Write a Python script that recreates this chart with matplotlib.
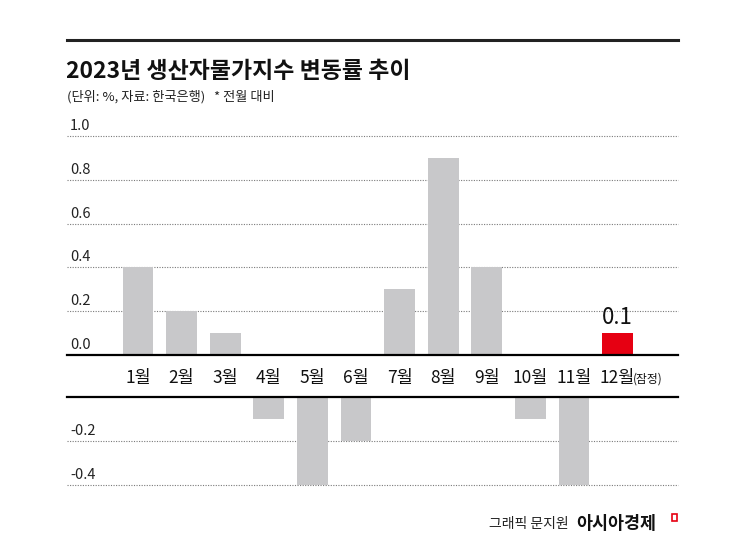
import matplotlib
matplotlib.use('Agg')
import matplotlib.pyplot as plt
from matplotlib.transforms import blended_transform_factory
from matplotlib.patches import Rectangle

plt.rcParams['font.family'] = ['Noto Sans CJK KR', 'DejaVu Sans']

# ---- data ----
months = ['1월', '2월', '3월', '4월', '5월', '6월', '7월', '8월', '9월', '10월', '11월', '12월']
values = [0.4, 0.2, 0.1, -0.1, -0.4, -0.2, 0.3, 0.9, 0.4, -0.1, -0.4, 0.1]
pos_ticks = [0.0, 0.2, 0.4, 0.6, 0.8, 1.0]
neg_ticks = [-0.2, -0.4]
title = '2023년 생산자물가지수 변동률 추이'
subtitle = '(단위: %, 자료: 한국은행)'
note = '* 전월 대비'
prelim = '(잠정)'
credit = '그래픽 문지원'
brand = '아시아경제'

GRAY = '#c8c8ca'
RED = '#e60012'

W, H = 745, 541
fig = plt.figure(figsize=(W / 100, H / 100), dpi=100)


def fx(px):
    return px / W


def fy(py):
    return 1 - py / H


L, R = 67, 678
ax_up = fig.add_axes([fx(L), fy(355), (R - L) / W, (355 - 136) / H])
ax_dn = fig.add_axes([fx(L), fy(485), (R - L) / W, (485 - 397) / H])

step = 43.6
xmin = -71 / step
xmax = xmin + (R - L) / step
x = list(range(len(months)))
colors = [GRAY] * (len(months) - 1) + [RED]

for ax in (ax_up, ax_dn):
    ax.set_xlim(xmin, xmax)
    ax.axis('off')
ax_up.set_ylim(0, 1.0)
ax_dn.set_ylim(-0.4, 0)

pos_vals = [v if v > 0 else 0 for v in values]
neg_vals = [v if v < 0 else 0 for v in values]
ax_up.bar(x, pos_vals, width=0.71, color=colors, zorder=2)
ax_dn.bar(x, neg_vals, width=0.71, color=colors, zorder=2)

dot = (0, (1, 1.3))
for t in pos_ticks[1:]:
    ax_up.axhline(t, color='#7a7a7a', lw=0.8, ls=dot, zorder=1, clip_on=False)
ax_up.axhline(0, color='black', lw=1.6, zorder=3, clip_on=False)
for t in neg_ticks:
    ax_dn.axhline(t, color='#7a7a7a', lw=0.8, ls=dot, zorder=1, clip_on=False)
ax_dn.axhline(0, color='black', lw=1.6, zorder=3, clip_on=False)

# tick labels
for ax, ticks in ((ax_up, pos_ticks), (ax_dn, neg_ticks)):
    tr = blended_transform_factory(ax.transAxes, ax.transData)
    for t in ticks:
        ax.annotate(f'{t:.1f}', xy=(0, t), xycoords=tr, xytext=(3, 3),
                    textcoords='offset pixels', ha='left', va='bottom',
                    fontsize=10.5, color='#222222')

# month labels
trm = blended_transform_factory(ax_up.transData, fig.transFigure)
for i, m in enumerate(months):
    ax_up.text(i, fy(378), m, transform=trm, ha='center', va='center',
               fontsize=12.5, color='#111111')
ax_up.annotate(prelim, xy=(len(months) - 1, fy(379)), xycoords=trm,
               xytext=(15, 0), textcoords='offset pixels',
               ha='left', va='center', fontsize=8.5, color='#111111')

# value label for last bar
ax_up.annotate(f'{values[-1]}', xy=(x[-1], values[-1]), xytext=(0, 4),
               textcoords='offset pixels', ha='center', va='bottom',
               fontsize=16, fontweight='medium', color='#111111')

# header
fig.add_artist(plt.Line2D([fx(L), fx(R)], [fy(40), fy(40)], color='#222222', lw=2.2))
fig.text(fx(66), fy(71), title, fontsize=16.5, fontweight='heavy', ha='left',
         va='center', color='#111111')
fig.text(fx(67), fy(97), subtitle, fontsize=9.5, ha='left', va='center', color='#222222')
fig.text(fx(214), fy(97), note, fontsize=9.5, ha='left', va='center', color='#222222')

# footer
fig.text(fx(569), fy(524), credit, fontsize=10, ha='right', va='center', color='#222222')
fig.text(fx(576), fy(524), brand, fontsize=12.5, fontweight='bold', ha='left',
         va='center', color='#111111')
fig.add_artist(Rectangle((fx(672), fy(521)), 5 / W, 7 / H, transform=fig.transFigure,
                         fill=False, edgecolor=RED, lw=1.2))

fig.savefig('out.png', dpi=100, facecolor='white')
